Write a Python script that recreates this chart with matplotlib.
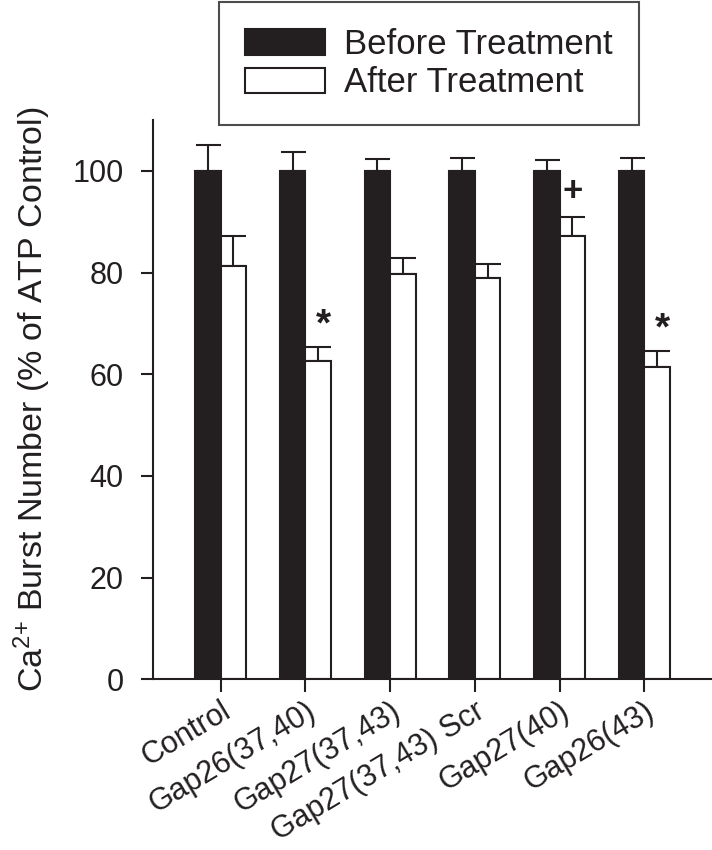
import numpy as np
import matplotlib
matplotlib.use("Agg")
import matplotlib.pyplot as plt
from matplotlib.patches import Patch

plt.rcParams['font.family'] = ['Liberation Sans', 'DejaVu Sans']
plt.rcParams['mathtext.default'] = 'regular'

# data
groups = ['Control', 'Gap26(37,40)', 'Gap27(37,43)', 'Gap27(37,43) Scr',
          'Gap27(40)', 'Gap26(43)']
before = [100, 100, 100, 100, 100, 100]
before_err = [5.1, 3.7, 2.4, 2.6, 2.2, 2.6]
after = [81.3, 62.6, 79.7, 78.9, 87.2, 61.5]
after_err = [5.9, 2.8, 3.1, 2.8, 3.8, 3.1]
marks = ['', '*', '', '', '+', '*']

dark = '#231f20'
w = 0.30
x = np.arange(len(groups))

fig = plt.figure(figsize=(7.12, 8.5), dpi=100)
ax = fig.add_axes([0.2149, 0.2008, 0.7851, 0.658])

ax.bar(x - w / 2, before, w, color=dark, edgecolor=dark, linewidth=1.5,
       label='Before Treatment', zorder=2)
ax.bar(x + w / 2, after, w, color='white', edgecolor=dark, linewidth=1.5,
       label='After Treatment', zorder=2)

# upper error bars only
ax.errorbar(x - w / 2, before, yerr=[np.zeros(len(x)), before_err], fmt='none',
            ecolor=dark, elinewidth=1.5, capsize=9, capthick=1.5, zorder=1)
ax.errorbar(x + w / 2, after, yerr=[np.zeros(len(x)), after_err], fmt='none',
            ecolor=dark, elinewidth=1.5, capsize=9, capthick=1.5, zorder=1)

# significance marks
for xi, a, e, m in zip(x, after, after_err, marks):
    if m == '*':
        ax.text(xi + w / 2 + 0.06, a + e + 0.6, m, ha='center', va='bottom',
                fontsize=28, fontweight='bold', color=dark)
    elif m == '+':
        ax.text(xi + w / 2, a + e + 1.7, m, ha='center', va='bottom',
                fontsize=25, fontweight='bold', color=dark)

ax.set_xlim(-0.8, 5.8)
ax.set_ylim(0, 110)
ax.set_yticks([0, 20, 40, 60, 80, 100])
ax.set_xticks(x)
ax.set_xticklabels(groups, rotation=31, ha='right', va='top',
                   rotation_mode='anchor')

for s in ['top', 'right']:
    ax.spines[s].set_visible(False)
for s in ['left', 'bottom']:
    ax.spines[s].set_linewidth(1.5)
    ax.spines[s].set_color(dark)

ax.tick_params(axis='both', direction='out', length=9, width=1.5,
               color=dark, labelsize=22, labelcolor=dark)
ax.tick_params(axis='y', pad=12)
ax.tick_params(axis='x', pad=3)

ax.set_ylabel('Ca$^{2{+}}$ Burst Number (% of ATP Control)', fontsize=24.5,
              color=dark, labelpad=14)

handles = [Patch(facecolor=dark, edgecolor=dark, linewidth=1.5),
           Patch(facecolor='white', edgecolor=dark, linewidth=1.5)]
leg = fig.legend(handles, ['Before Treatment', 'After Treatment'],
                 loc='center', bbox_to_anchor=(0.6028, 0.9249),
                 fontsize=25, frameon=True, fancybox=False,
                 handlelength=2.3, handleheight=0.75, handletextpad=0.55,
                 borderpad=0.75, labelspacing=0.15)
leg.get_frame().set_edgecolor(dark)
leg.get_frame().set_linewidth(1.5)
for t in leg.get_texts():
    t.set_color(dark)

fig.savefig('out.png', dpi=100)
